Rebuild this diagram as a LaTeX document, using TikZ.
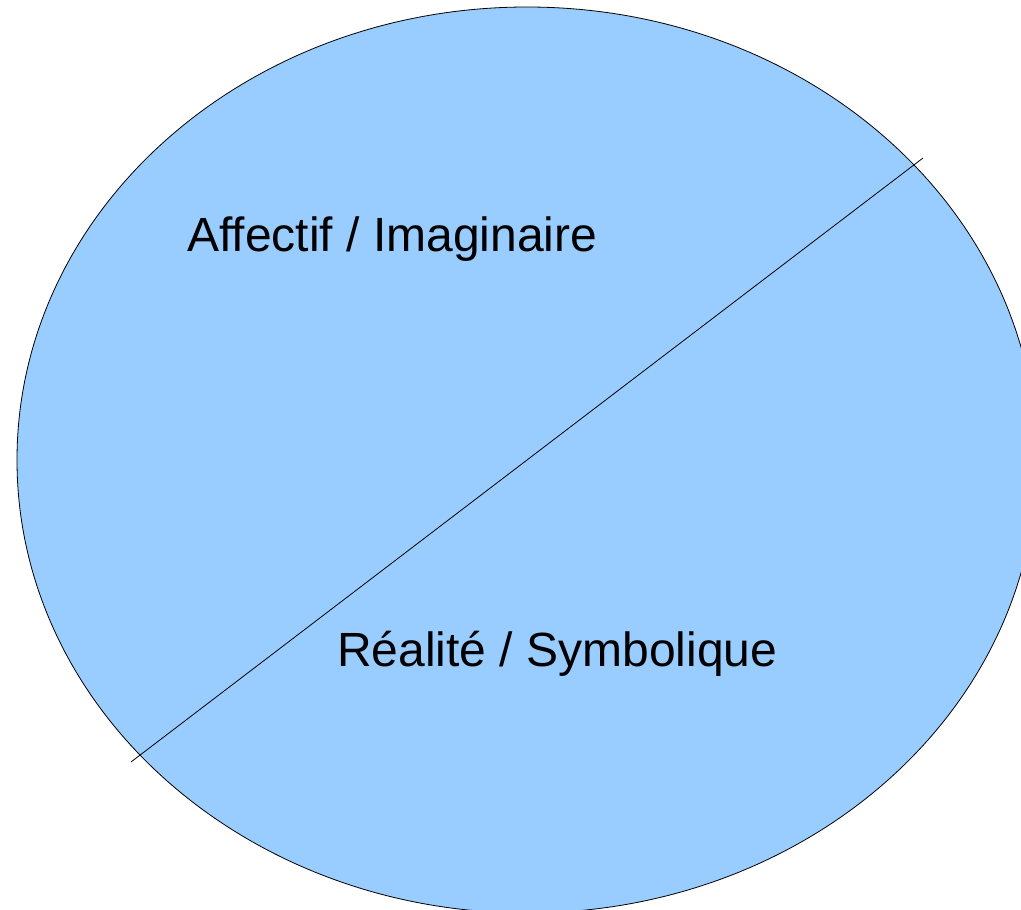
\documentclass[tikz,border=0pt]{standalone}
\usepackage{fontspec}
\setmainfont{Liberation Sans}
\usetikzlibrary{shapes.geometric,positioning}
\definecolor{bleuciel}{HTML}{99CCFF}
\tikzstyle{cercle} = [ellipse, draw=black, fill=bleuciel, line width=0.8pt, minimum width=1020pt, minimum height=906pt, inner sep=0pt, outer sep=0pt]
\tikzstyle{etiquette} = [anchor=base west, inner sep=0pt, font=\fontsize{48}{56}\selectfont]
\tikzstyle{trait} = [line width=0.8pt]

\begin{document}
\begin{tikzpicture}[x=1pt, y=-1pt]
        \useasboundingbox (0,0) rectangle (1021,910);
        \clip (0,0) rectangle (1021,910);
        \node (zone) [cercle] at (527,460) {};
        \coordinate (bas) at (131,762);
        \coordinate (haut) at (923,158);
        \draw [trait] (bas) -- (haut);
        \node (affect) [etiquette] at (187,251) {Affectif / Imaginaire};
        \node (reel) [etiquette] at (337,666) {Réalité / Symbolique};
    \end{tikzpicture}
\end{document}
